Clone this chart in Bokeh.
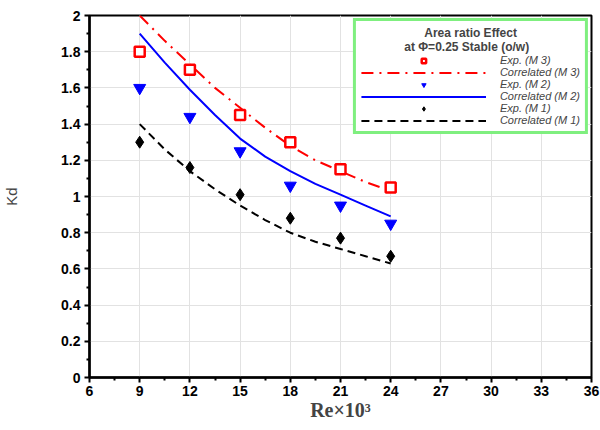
from bokeh.embed import file_html
from bokeh.models import FixedTicker, Legend, LegendItem, Range1d
from bokeh.plotting import figure
from bokeh.resources import INLINE

# Experimental points (Re x 10^3 vs Kd)
re_exp = [9, 12, 15, 18, 21, 24]
kd_exp_m3 = [1.80, 1.70, 1.45, 1.30, 1.15, 1.05]
kd_exp_m2 = [1.60, 1.44, 1.25, 1.06, 0.95, 0.85]
kd_exp_m1 = [1.30, 1.16, 1.01, 0.88, 0.77, 0.67]

# Correlated curves
re_corr = [9, 10.5, 12, 13.5, 15, 16.5, 18, 19.5, 21, 22.5, 24]
kd_corr_m3 = [2.00, 1.86, 1.73, 1.60, 1.49, 1.38, 1.28, 1.20, 1.14, 1.08, 1.03]
kd_corr_m2 = [1.90, 1.74, 1.59, 1.45, 1.32, 1.22, 1.14, 1.07, 1.01, 0.95, 0.89]
kd_corr_m1 = [1.40, 1.26, 1.14, 1.04, 0.95, 0.87, 0.80, 0.75, 0.71, 0.67, 0.63]

x_ticks = [6, 9, 12, 15, 18, 21, 24, 27, 30, 33, 36]
y_ticks = [0, 0.2, 0.4, 0.6, 0.8, 1.0, 1.2, 1.4, 1.6, 1.8, 2.0]
y_tick_labels = {0: "0", 0.2: "0.2", 0.4: "0.4", 0.6: "0.6", 0.8: "0.8", 1.0: "1",
                 1.2: "1.2", 1.4: "1.4", 1.6: "1.6", 1.8: "1.8", 2.0: "2"}

NB = "\u00a0"
legend_title = (NB * 19 + "Area ratio Effect\n"
                + NB * 13 + "at \u03a6=0.25 Stable (o/w)")
labels = ["Exp. (M 3)", "Correlated (M 3)", "Exp. (M 2)",
          "Correlated (M 2)", "Exp. (M 1)", "Correlated (M 1)"]

FONT = "Liberation Sans"

p = figure(width=600, height=430, output_backend="svg", toolbar_location=None,
           x_range=Range1d(6, 36), y_range=Range1d(0, 2),
           min_border_left=89, min_border_right=9, min_border_top=15,
           min_border_bottom=53)

p.outline_line_color = "black"
p.outline_line_width = 2
p.outline_line_alpha = 1

for ax in (p.xaxis[0], p.yaxis[0]):
    ax.axis_line_width = 2.5
    ax.axis_line_color = "black"
    ax.major_tick_line_width = 2
    ax.major_tick_line_color = "black"
    ax.minor_tick_line_width = 2
    ax.minor_tick_line_color = "black"
    ax.major_tick_in = 0
    ax.major_tick_out = 5
    ax.minor_tick_in = 0
    ax.minor_tick_out = 3
    ax.major_label_text_font = FONT
    ax.major_label_text_font_style = "bold"
    ax.major_label_text_font_size = "14px"
    ax.major_label_text_color = "black"

p.xaxis.ticker = FixedTicker(ticks=x_ticks,
                             minor_ticks=[t + 1.5 for t in x_ticks[:-1]])
p.yaxis.ticker = FixedTicker(ticks=y_ticks,
                             minor_ticks=[round(t + 0.1, 1) for t in y_ticks[:-1]])
p.yaxis.major_label_overrides = y_tick_labels
p.xaxis.major_label_standoff = 3
p.yaxis.major_label_standoff = 4

p.xaxis.axis_label = "Re\u00d710\u00b3"
p.xaxis.axis_label_text_font = "Liberation Serif"
p.xaxis.axis_label_text_font_style = "bold"
p.xaxis.axis_label_text_font_size = "20px"
p.xaxis.axis_label_standoff = 0

p.yaxis.axis_label = "Kd"
p.yaxis.axis_label_text_font = FONT
p.yaxis.axis_label_text_font_style = "normal"
p.yaxis.axis_label_text_font_size = "15px"
p.yaxis.axis_label_standoff = 38

p.xgrid.ticker = FixedTicker(ticks=x_ticks)
p.ygrid.ticker = FixedTicker(ticks=y_ticks)
p.grid.grid_line_color = "#e2e2e2"
p.grid.grid_line_width = 1

# Correlated curves
r_c3 = p.line(re_corr, kd_corr_m3, line_color="red", line_width=2,
              line_dash="12 6 2 6")
r_c2 = p.line(re_corr, kd_corr_m2, line_color="blue", line_width=2)
r_c1 = p.line(re_corr, kd_corr_m1, line_color="black", line_width=2,
              line_dash="8 5")

# Experimental points
r_e3 = p.scatter(re_exp, kd_exp_m3, marker="square", size=10,
                 fill_color="white", line_color="red", line_width=2.5)
r_e2 = p.scatter(re_exp, kd_exp_m2, marker="inverted_triangle", size=12,
                 fill_color="blue", line_color="blue")
r_e1 = p.scatter(re_exp, kd_exp_m1, marker="diamond", size=12,
                 fill_color="black", line_color="black")

items = [LegendItem(label=lab, renderers=[r])
         for lab, r in zip(labels, [r_e3, r_c3, r_e2, r_c2, r_e1, r_c1])]
legend = Legend(items=items, location="top_right", title=legend_title,
                title_text_font=FONT, title_text_font_style="bold",
                title_text_font_size="12px", title_standoff=0,
                label_text_font=FONT, label_text_font_style="italic",
                label_text_font_size="11px", label_height=11, glyph_height=11,
                glyph_width=125, label_standoff=14, spacing=0, padding=5,
                margin=3, border_line_color="#00e000", border_line_width=3,
                background_fill_color="white", background_fill_alpha=1)
p.add_layout(legend)

open("out.html", "w").write(file_html(p, INLINE))
